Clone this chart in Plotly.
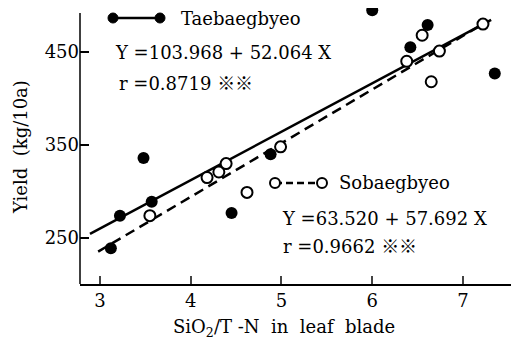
import plotly.graph_objects as go

# Data
tae_x = [3.12, 3.22, 3.48, 3.57, 4.45, 4.88, 6.00, 6.42, 6.61, 7.35]
tae_y = [239, 274, 336, 289, 277, 340, 495, 455, 479, 427]
sob_x = [3.55, 4.18, 4.31, 4.39, 4.62, 4.99, 6.38, 6.55, 6.65, 6.74, 7.22]
sob_y = [274, 315, 321, 330, 299, 348, 440, 468, 418, 451, 480]
tae_line_x = [2.89, 7.31]
tae_line_y = [254.4, 484.6]
sob_line_x = [2.98, 7.25]
sob_line_y = [235.4, 481.8]
x_ticks = [3, 4, 5, 6, 7]
y_ticks = [250, 350, 450]

OFF = 8  # page body margin
PW, PH = 519, 342
W, H = PW - OFF, PH - OFF
# plot area in page pixels: left 80, right 519, top 8, bottom 284
PL, PR, PT, PB = 80, 519, 8, 284
AXIS_TOP = 13  # page pixel where the drawn y-axis line ends
L = PL - OFF
T = max(PT - OFF, 0)
R = (PW - OFF) - (PR - OFF)
B = (PH - OFF) - (PB - OFF)
FONT = "DejaVu Serif"
FS = 18

PT_EFF = T + OFF  # actual page top of plot area

def px(x):
    return (x - PL) / (PR - PL)

def py(y):
    return (PB - y) / (PB - PT_EFF)

# y range: 250 at page px 238, 93 px per 100
def yval(p):
    return 250 + (238 - p) / 0.93

fig = go.Figure()
fig.add_trace(go.Scatter(x=tae_line_x, y=tae_line_y, mode="lines",
                         line=dict(color="black", width=2.5), showlegend=False))
fig.add_trace(go.Scatter(x=sob_line_x, y=sob_line_y, mode="lines",
                         line=dict(color="black", width=2.5, dash="10px,6px"), showlegend=False))
fig.add_trace(go.Scatter(x=sob_x, y=sob_y, mode="markers",
                         marker=dict(symbol="circle", size=11, color="white",
                                     line=dict(color="black", width=2)), showlegend=False))
fig.add_trace(go.Scatter(x=tae_x, y=tae_y, mode="markers", cliponaxis=False,
                         marker=dict(symbol="circle", size=12, color="black"), showlegend=False))

shapes = []
# y-axis line (shorter than plot area)
shapes.append(dict(type="line", xref="paper", yref="paper", x0=0, x1=0,
                   y0=0, y1=py(AXIS_TOP), line=dict(color="black", width=1.5)))

def key(x0, x1, yy, dash, filled):
    shapes.append(dict(type="line", xref="paper", yref="paper",
                       x0=px(x0), x1=px(x1), y0=py(yy), y1=py(yy),
                       line=dict(color="black", width=2.5, dash=dash)))
    for xx in (x0, x1):
        shapes.append(dict(type="circle", xref="paper", yref="paper",
                           xsizemode="pixel", ysizemode="pixel",
                           xanchor=px(xx), yanchor=py(yy),
                           x0=-5, x1=5, y0=-5, y1=5,
                           fillcolor="black" if filled else "white",
                           line=dict(color="black", width=2 if not filled else 1)))

key(113, 160, 18, "solid", True)
key(275, 322, 183, "7px,4px", False)

annos = []
def txt(s, x, y, size=FS, anchor="left", angle=0):
    annos.append(dict(text=s, x=px(x), y=py(y), xref="paper", yref="paper",
                      xanchor=anchor, yanchor="middle", showarrow=False,
                      textangle=angle, font=dict(family=FONT, size=size, color="black")))

MARK = '<span style="font-family:\'Noto Sans CJK JP\';font-weight:bold">※※</span>'
txt("Taebaegbyeo", 179, 18)
txt("Y =103.968 + 52.064 X", 113, 52)
txt("r =0.8719 " + MARK, 117, 82)
txt("Sobaegbyeo", 337, 183)
txt("Y =63.520 + 57.692 X", 280, 218)
txt("r =0.9662 " + MARK, 281, 245)
txt("SiO<sub>2</sub>/T -N  in  leaf  blade", 284, 328, anchor="center")
txt("Yield  (kg/10a)", 20, 147, anchor="center", angle=-90)
fig.update_layout(annotations=annos, shapes=shapes)

fig.update_layout(
    width=W, height=H, margin=dict(l=L, r=R, t=T, b=B, pad=0, autoexpand=False),
    paper_bgcolor="white", plot_bgcolor="white",
    font=dict(family=FONT, size=FS, color="black"),
    xaxis=dict(range=[2.78, 7.617], tickvals=x_ticks, ticks="inside", ticklen=8,
               tickwidth=1.5, showline=True, linecolor="black", linewidth=1.5,
               showgrid=False, zeroline=False, tickfont=dict(family=FONT, size=FS)),
    yaxis=dict(range=[yval(PB), yval(PT_EFF)], tickvals=y_ticks, ticks="inside", ticklen=9,
               tickwidth=1.5, tickcolor="black", showline=False,
               showgrid=False, zeroline=False, tickfont=dict(family=FONT, size=FS)),
)

fig.write_html("out.html")
